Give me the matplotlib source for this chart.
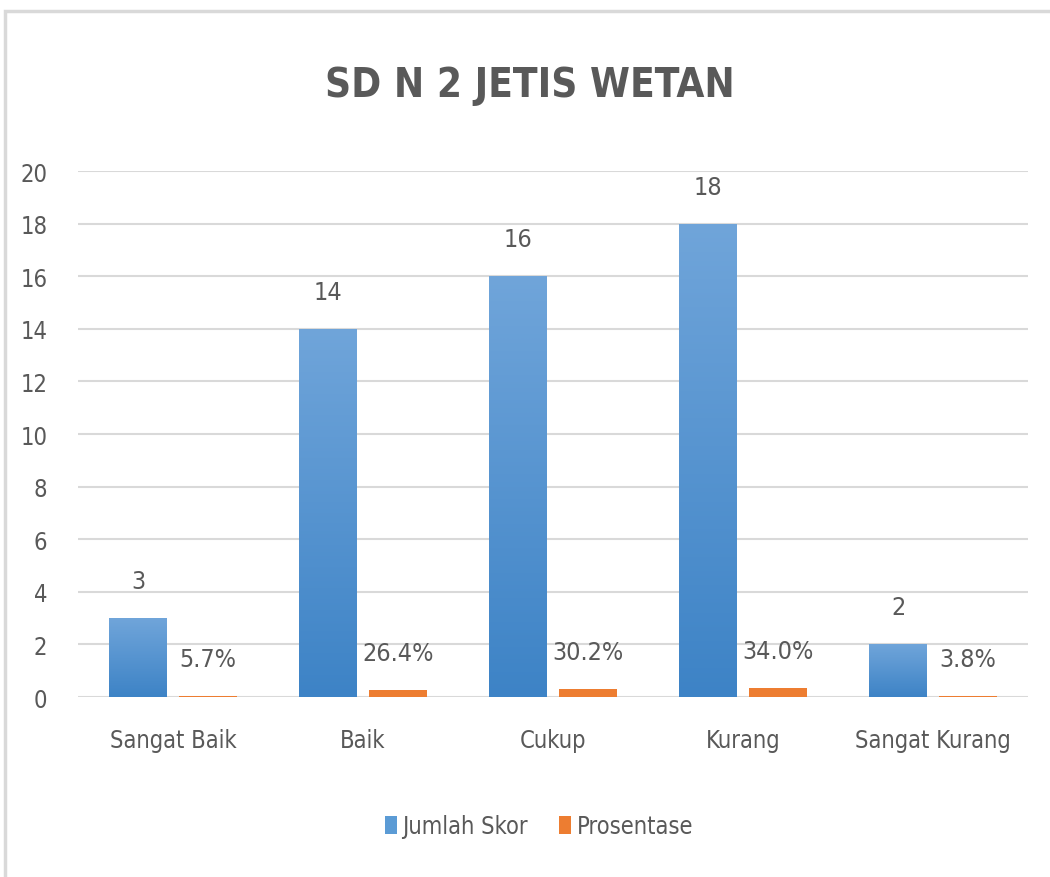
import numpy as np
import matplotlib.pyplot as plt
from matplotlib.patches import Rectangle
from matplotlib.colors import LinearSegmentedColormap

# data
categories = ["Sangat Baik", "Baik", "Cukup", "Kurang", "Sangat Kurang"]
jumlah_skor = [3, 14, 16, 18, 2]
prosentase = [0.057, 0.264, 0.302, 0.340, 0.038]
pct_labels = ["5.7%", "26.4%", "30.2%", "34.0%", "3.8%"]

plt.rcParams["font.family"] = ["DejaVu Sans"]
plt.rcParams["font.stretch"] = "condensed"

txt = "#595959"
blue = "#5b9bd5"
orange = "#ed7d31"

fig = plt.figure(figsize=(10.5, 8.78), dpi=100)
fig.patches.append(Rectangle((0.005, -0.01), 1.1, 0.996, transform=fig.transFigure,
                             fill=False, edgecolor="#d9d9d9", linewidth=2.5))
ax = fig.add_axes([0.0743, 0.205, 0.905, 0.599])

x = np.arange(len(categories))
w = 0.305
off = 0.184
b1 = ax.bar(x - off, jumlah_skor, w, color=blue, label="Jumlah Skor", zorder=3)
b2 = ax.bar(x + off, prosentase, w, color=orange, label="Prosentase", zorder=3)

# vertical gradient on blue bars
grad = np.linspace(0, 1, 256).reshape(-1, 1)
cmap = LinearSegmentedColormap.from_list("g", ["#3d83c6", "#70a5da"])
for p in b1:
    bx, by = p.get_x(), p.get_y()
    im = ax.imshow(grad, cmap=cmap, origin="lower", aspect="auto", zorder=4,
                   extent=[bx, bx + p.get_width(), by, by + p.get_height()])
    im.set_clip_path(p)

for i in range(len(x)):
    ax.text(x[i] - off, jumlah_skor[i] + 0.95, str(jumlah_skor[i]), ha="center",
            va="bottom", fontsize=18, color=txt)
    ax.text(x[i] + off, prosentase[i] + 0.95, pct_labels[i], ha="center",
            va="bottom", fontsize=18, color=txt)

ax.set_xlim(-0.5, len(x) - 0.5)
ax.set_ylim(0, 20)
ax.set_yticks(range(0, 21, 2))
ax.set_xticks(x)
ax.set_xticklabels(categories, fontsize=17)
ax.tick_params(axis="both", length=0, labelsize=17, colors=txt)
ax.tick_params(axis="x", pad=22)
ax.tick_params(axis="y", pad=22)
ax.grid(axis="y", color="#d9d9d9", linewidth=1.5, zorder=0)
for s in ax.spines.values():
    s.set_visible(False)

fig.text(0.505, 0.902, "SD N 2 JETIS WETAN", ha="center", va="center",
         fontsize=29, fontweight="bold", color=txt)

ax.legend(loc="center", bbox_to_anchor=(0.485, -0.245), ncol=2, frameon=False,
          fontsize=17, labelcolor=txt, handlelength=0.5, handleheight=0.8,
          handletextpad=0.25, columnspacing=1.3)

fig.savefig("out.png", dpi=100)
